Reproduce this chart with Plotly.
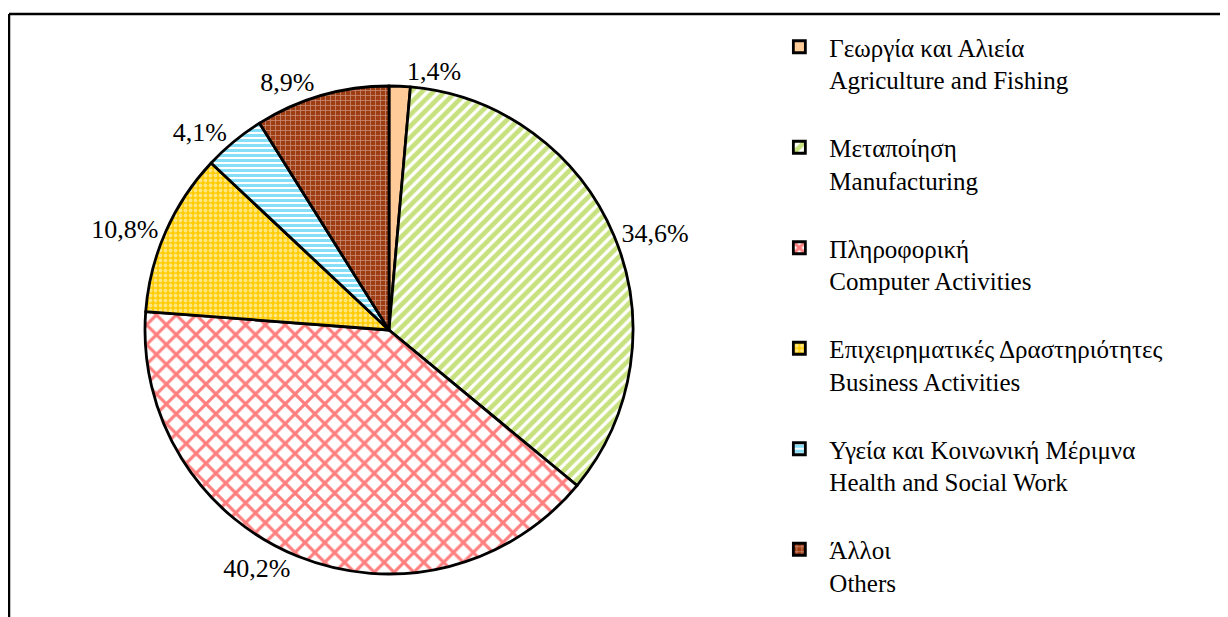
import plotly.graph_objects as go

# Sector shares (%), clockwise from 12 o'clock
sectors_gr = ['Γεωργία και Αλιεία', 'Μεταποίηση', 'Πληροφορική',
              'Επιχειρηματικές Δραστηριότητες', 'Υγεία και Κοινωνική Μέριμνα', 'Άλλοι']
sectors_en = ['Agriculture and Fishing', 'Manufacturing', 'Computer Activities',
              'Business Activities', 'Health and Social Work', 'Others']
shares = [1.4, 34.6, 40.2, 10.8, 4.1, 8.9]

# Greek style decimal comma for the slice labels
share_text = [f"{v:.1f}".replace('.', ',') + '%' for v in shares]
# blank third line spaces the legend entries out; the last one doesn't need it
legend_labels = [f"{g}<br>{e}" for g, e in zip(sectors_gr, sectors_en)]
legend_labels = [lbl + "<br>\u00a0" for lbl in legend_labels[:-1]] + legend_labels[-1:]

fg_colors = ['#FFCC99', '#8FC400', '#FF0000', '#FFFFFF', '#10BEF0', '#F0D8D0']
bg_colors = ['#FFCC99', '#FFFFFF', '#FFFFFF', '#FFCC00', '#FFFFFF', '#9E3C14']
shapes = ['', '/', 'x', '.', '-', '+']
sizes = [8, 8, 14, 5, 5, 5]
solidity = [0.3, 0.6, 0.4, 0.45, 0.6, 0.3]

FONT = 'Liberation Serif, Times New Roman, serif'

# page body adds an 8px offset, so positions below are shifted by 8px
W, H = 1228, 617
pie = go.Pie(
    labels=legend_labels,
    values=shares,
    text=share_text,
    textinfo='text',
    textposition='outside',
    sort=False,
    direction='clockwise',
    rotation=0,
    domain=dict(x=[137 / W, 625 / W], y=[51 / H, 539 / H]),
    marker=dict(
        colors=bg_colors,
        line=dict(color='black', width=2.8),
        pattern=dict(shape=shapes, fgcolor=fg_colors, bgcolor=bg_colors,
                     size=sizes, solidity=solidity, fillmode='overlay'),
    ),
    outsidetextfont=dict(family=FONT, size=26, color='black'),
)

fig = go.Figure(data=[pie])

# frame around the chart area (top and left edges are visible)
fig.add_shape(type='line', xref='paper', yref='paper', x0=1 / W, x1=1.0,
              y0=1 - 6 / H, y1=1 - 6 / H, line=dict(color='black', width=2.5))
fig.add_shape(type='line', xref='paper', yref='paper', x0=1 / W, x1=1 / W,
              y0=0, y1=1 - 6 / H, line=dict(color='black', width=2.5))

fig.update_layout(
    width=W,
    height=H,
    margin=dict(l=0, r=0, t=0, b=0),
    paper_bgcolor='white',
    plot_bgcolor='white',
    font=dict(family=FONT, size=25, color='black'),
    showlegend=True,
    legend=dict(
        x=0.62, y=1 - 16 / H, xanchor='left', yanchor='top',
        font=dict(family=FONT, size=25, color='black'),
        itemwidth=50, valign='top', bgcolor='rgba(0,0,0,0)',
    ),
)

fig.write_html("out.html")
